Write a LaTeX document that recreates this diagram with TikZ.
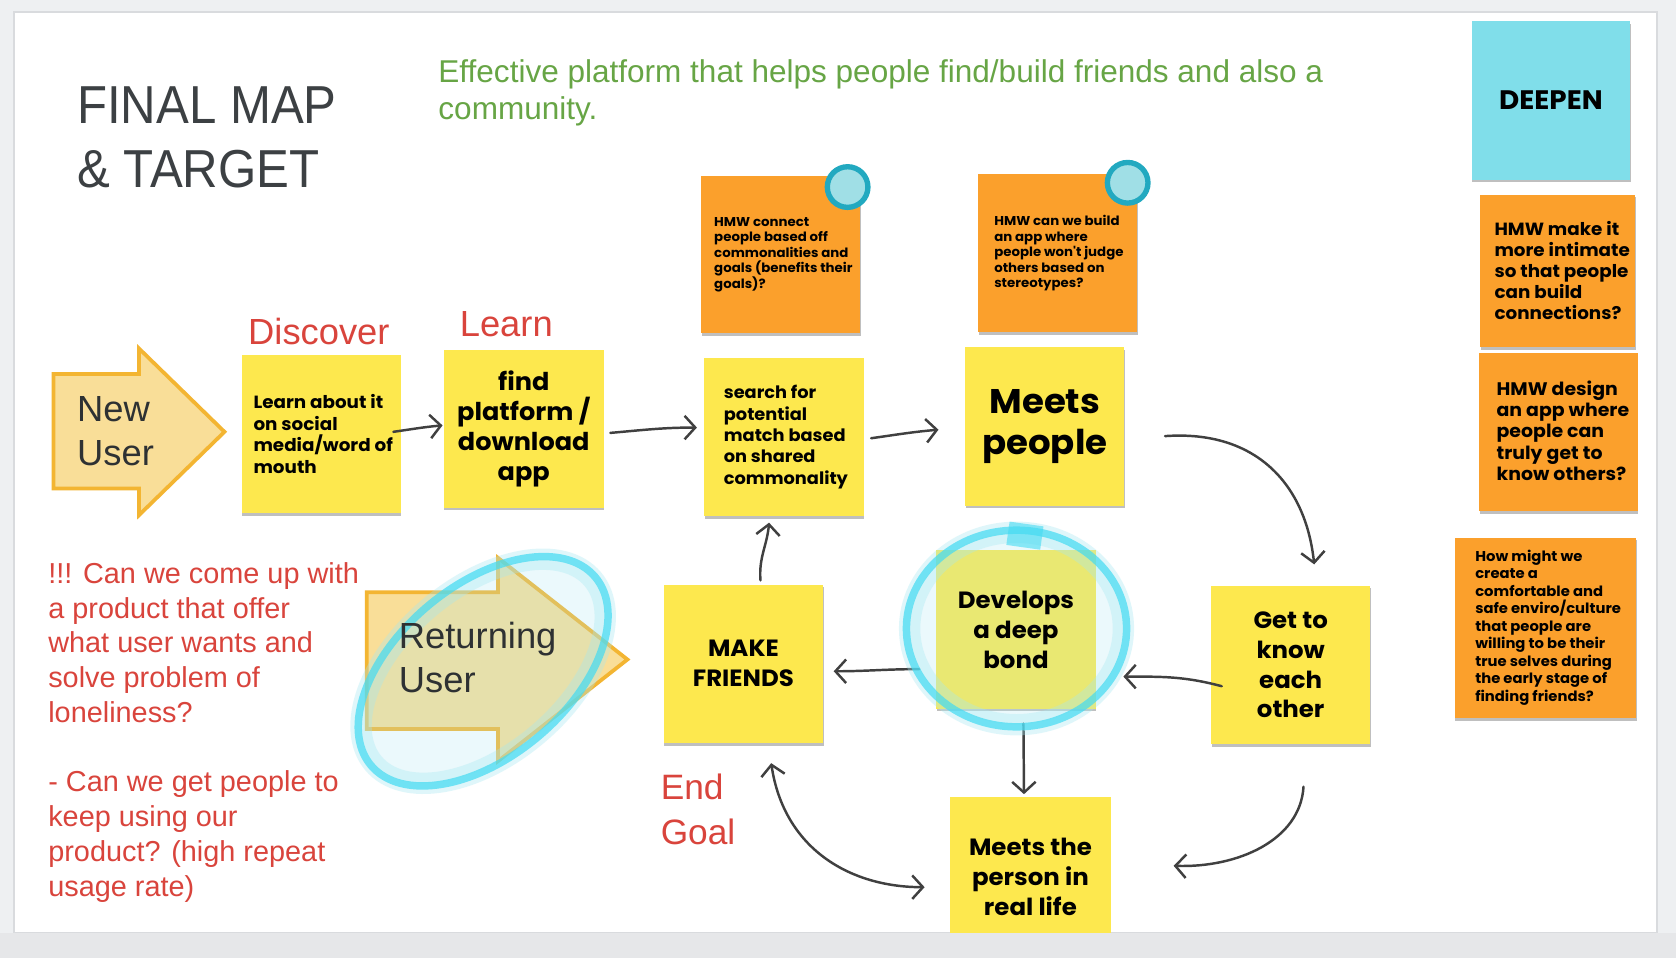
\documentclass[tikz,border=0pt]{standalone}
\usepackage{fontspec}
\setmainfont{Liberation Sans}
\newfontfamily\mont{Poppins}[FakeStretch=1.04]
\newfontfamily\titlef{Liberation Sans}[FakeStretch=0.92]
\usetikzlibrary{arrows.meta,shadows}
\definecolor{bgg}{HTML}{EEF0F2}
\definecolor{edgeg}{HTML}{D9DBDE}
\definecolor{stripc}{HTML}{E6E7E9}
\definecolor{ynote}{HTML}{FDE84E}
\definecolor{onote}{HTML}{FBA02C}
\definecolor{cnote}{HTML}{80DEEA}
\definecolor{dotfill}{HTML}{A0DFE6}
\definecolor{dotring}{HTML}{22A9C0}
\definecolor{afill}{HTML}{F9DE98}
\definecolor{aedge}{HTML}{F3B532}
\definecolor{titlec}{HTML}{3C4043}
\definecolor{userc}{HTML}{2E3133}
\definecolor{greenc}{HTML}{67A545}
\definecolor{redc}{HTML}{D9443C}
\definecolor{handc}{HTML}{404040}
\definecolor{hlc}{HTML}{45DBF2}
\definecolor{hlsoft}{HTML}{A6E8F2}
\begin{document}
\begin{tikzpicture}[x=1pt,y=-1pt,
  note/.style={minimum width=149, minimum height=148, inner sep=0, outer sep=0, anchor=north west,
    drop shadow={shadow xshift=0.5pt, shadow yshift=-2.5pt, opacity=0.25, fill=black}},
  ynote/.style={note, fill=ynote},
  onote/.style={note, fill=onote},
  dot/.style={circle, fill=dotfill, draw=dotring, line width=5, minimum size=38, inner sep=0},
  big/.style={font=\mont\bfseries\fontsize{22}{28}\selectfont, align=center, inner sep=0},
  med/.style={font=\mont\bfseries\fontsize{15.5}{20}\selectfont, align=left, inner sep=0, anchor=west},
  sml/.style={font=\mont\bfseries\fontsize{12}{14.5}\selectfont, align=left, inner sep=0, anchor=west},
  redtxt/.style={font=\fontsize{34}{42}\selectfont, color=redc, inner sep=0},
  usertxt/.style={font=\fontsize{34}{41}\selectfont, color=userc, align=left, anchor=north west, inner sep=0},
  blockarrow/.style={fill=afill, draw=aedge, line width=3.5, line join=miter},
  barb/.tip={Straight Barb[length=10pt,width=22pt]},
  hand/.style={draw=handc, line width=2.3, line cap=round, line join=round, -barb},
  hand2/.style={draw=handc, line width=2.3, line cap=round, line join=round, barb-barb},
  hlring/.style={hlc, opacity=0.72, line width=7},
  hlband/.style={hlsoft, opacity=0.35, line width=20},
  hlfill/.style={hlsoft, opacity=0.22},
]
% background and slide
\fill[bgg] (0,0) rectangle (1568,896);
\fill[white] (14,12) rectangle (1549,872);
\draw[edgeg, line width=2] (13,11) rectangle (1550,873);

% title and goal
\node[font=\titlef\fontsize{50}{60}\selectfont, color=titlec, align=left, anchor=north west, inner sep=0] (ttl) at (72,81) {FINAL MAP\\\& TARGET};
\node[font=\fontsize{29.5}{34}\selectfont, color=greenc, align=left, anchor=north west, inner sep=0] (goal) at (410,56) {Effective platform that helps people find/build friends and also a\\community.};

% DEEPEN column
\node[note, fill=cnote, minimum width=148, minimum height=148] (dp) at (1377,20) {};
\node[font=\mont\bfseries\fontsize{25}{28}\selectfont, inner sep=0] (dpt) at (dp.center) {DEEPEN};
\node[onote, minimum width=145, minimum height=143] (o3) at (1385,182) {};
\node[med, font=\mont\bfseries\fontsize{16.5}{19.5}\selectfont] (u3) at (1398,253) {HMW make it\\more intimate\\so that people\\can build\\connections?};
\node[onote, minimum width=148, minimum height=148] (o4) at (1384,330) {};
\node[med, font=\mont\bfseries\fontsize{17}{20}\selectfont] (u4) at (1400,403) {HMW design\\an app where\\people can\\truly get to\\know others?};
\node[onote, minimum width=170, minimum height=169] (o5) at (1361,503) {};
\node[sml, font=\mont\bfseries\fontsize{13.3}{16.4}\selectfont] (u5) at (1380,587) {How might we\\create a\\comfortable and\\safe enviro/culture\\that people are\\willing to be their\\true selves during\\the early stage of\\finding friends?};

% HMW notes with dots
\node[onote, minimum height=147] (o1) at (656,165) {};
\node[sml] (u1) at (668,238) {HMW connect\\people based off\\commonalities and\\goals (benefits their\\goals)?};
\node[dot] (d1) at (793,175) {};
\node[onote, minimum height=148] (o2) at (915,163) {};
\node[sml] (u2) at (930,237) {HMW can we build\\an app where\\people won't judge\\others based on\\stereotypes?};
\node[dot] (d2) at (1055,171) {};

% block arrows
\filldraw[blockarrow] (50,350) -- (130,350) -- (130,326) -- (210,404) -- (130,482) -- (130,457) -- (50,457) -- cycle;
\node[usertxt] (nu) at (72,371) {New\\User};
\filldraw[blockarrow] (343,554) -- (466,554) -- (466,522) -- (587,617) -- (466,712) -- (466,682) -- (343,682) -- cycle;

% red labels
\node[redtxt, anchor=base west] (disc) at (232,322) {Discover};
\node[redtxt, anchor=base west] (lrn) at (430,315) {Learn};
\node[redtxt, font=\fontsize{33}{42}\selectfont, align=left, anchor=north west] (eg) at (618,724) {End\\Goal};
\node[font=\fontsize{27}{32.5}\selectfont, color=redc, align=left, anchor=north west, inner sep=0] (qs) at (45,526) {!!! Can we come up with\\a product that offer\\what user wants and\\solve problem of\\loneliness?\\[32.5pt]- Can we get people to\\keep using our\\product? (high repeat\\usage rate)};

% yellow notes
\node[ynote] (y1) at (226,332) {};
\node[med, font=\mont\bfseries\fontsize{16.5}{20}\selectfont] (t1) at (237,406) {Learn about it\\on social\\media/word of\\mouth};
\node[ynote, minimum width=150] (y2) at (415,327) {};
\node[big, font=\mont\bfseries\fontsize{23}{28}\selectfont] (t2) at (y2.center) {find\\platform /\\download\\app};
\node[ynote] (y3) at (659,335) {};
\node[med, font=\mont\bfseries\fontsize{16}{20}\selectfont] (t3) at (677,409) {search for\\potential\\match based\\on shared\\commonality};
\node[ynote] (y4) at (903,325) {};
\node[big, font=\mont\bfseries\fontsize{32}{39}\selectfont] (t4) at (y4.center) {Meets\\people};
\node[ynote] (y5) at (876,515) {};
\node[ynote] (y6) at (1133,548) {};
\node[big] (t6) at (y6.center) {Get to\\know\\each\\other};
\node[ynote] (y7) at (621,547) {};
\node[big] (t7) at (y7.center) {MAKE\\FRIENDS};
\node[ynote, minimum width=150] (y8) at (889,746) {};
\node[big] (t8) at (y8.center) {Meets the\\person in\\real life};

% hand-drawn connectors
\draw[hand] ([shift={(-7,-2)}]y1.east) to[out=8,in=185] ([shift={(-1,-3)}]y2.west);
\draw[hand] ([shift={(6,4)}]y2.east) to[out=5,in=180] ([shift={(-7,-9)}]y3.west);
\draw[hand] ([shift={(7,1)}]y3.east) to[out=8,in=185] ([shift={(-25,3)}]y4.west);
\draw[hand] ([shift={(38,9)}]y4.east) .. controls +(85,-6) and +(-8,-75) .. ([shift={(22,-20)}]y6.north);
\draw[hand] ([shift={(10,20)}]y6.west) to[out=165,in=0] ([shift={(26,44)}]y5.east);
\draw[hand] ([shift={(-16,37)}]y5.west) to[out=180,in=0] ([shift={(10,7)}]y7.east);
\draw[hand] ([shift={(7,14)}]y5.south) -- ([shift={(-6,-3)}]y8.north);
\draw[hand] ([shift={(12,40)}]y6.south) .. controls +(-3,50) and +(60,2) .. ([shift={(59,-10)}]y8.east);
\draw[hand] ([shift={(16,-4)}]y7.north) to[out=95,in=265] ([shift={(-14,6)}]y3.south);
\draw[hand2] ([shift={(26,19)}]y7.south) .. controls +(12,80) and +(-70,0) .. ([shift={(-24,10)}]y8.west);

% highlighter marks
\begin{scope}[rotate around={40:(452,628)}]
  \fill[hlfill] (452,628) ellipse [x radius=134, y radius=78];
  \draw[hlband] (452,628) ellipse [x radius=134, y radius=78];
  \draw[hlring] (452,628) ellipse [x radius=137, y radius=80];
\end{scope}
\fill[hlfill] (951,588) ellipse [x radius=100, y radius=90];
\draw[hlband] (951,588) ellipse [x radius=100, y radius=90];
\draw[hlring] (951,588) ellipse [x radius=103, y radius=92];
\fill[hlc, opacity=0.6, rotate around={-8:(958,500)}] (943,490) rectangle (975,512);

% texts above the highlights
\node[usertxt] (ru) at (373,582) {Returning\\User};
\node[big] (t5) at (y5.center) {Develops\\a deep\\bond};

% bottom strip of the viewer
\fill[stripc] (0,873) rectangle (1568,896);
\end{tikzpicture}
\end{document}
